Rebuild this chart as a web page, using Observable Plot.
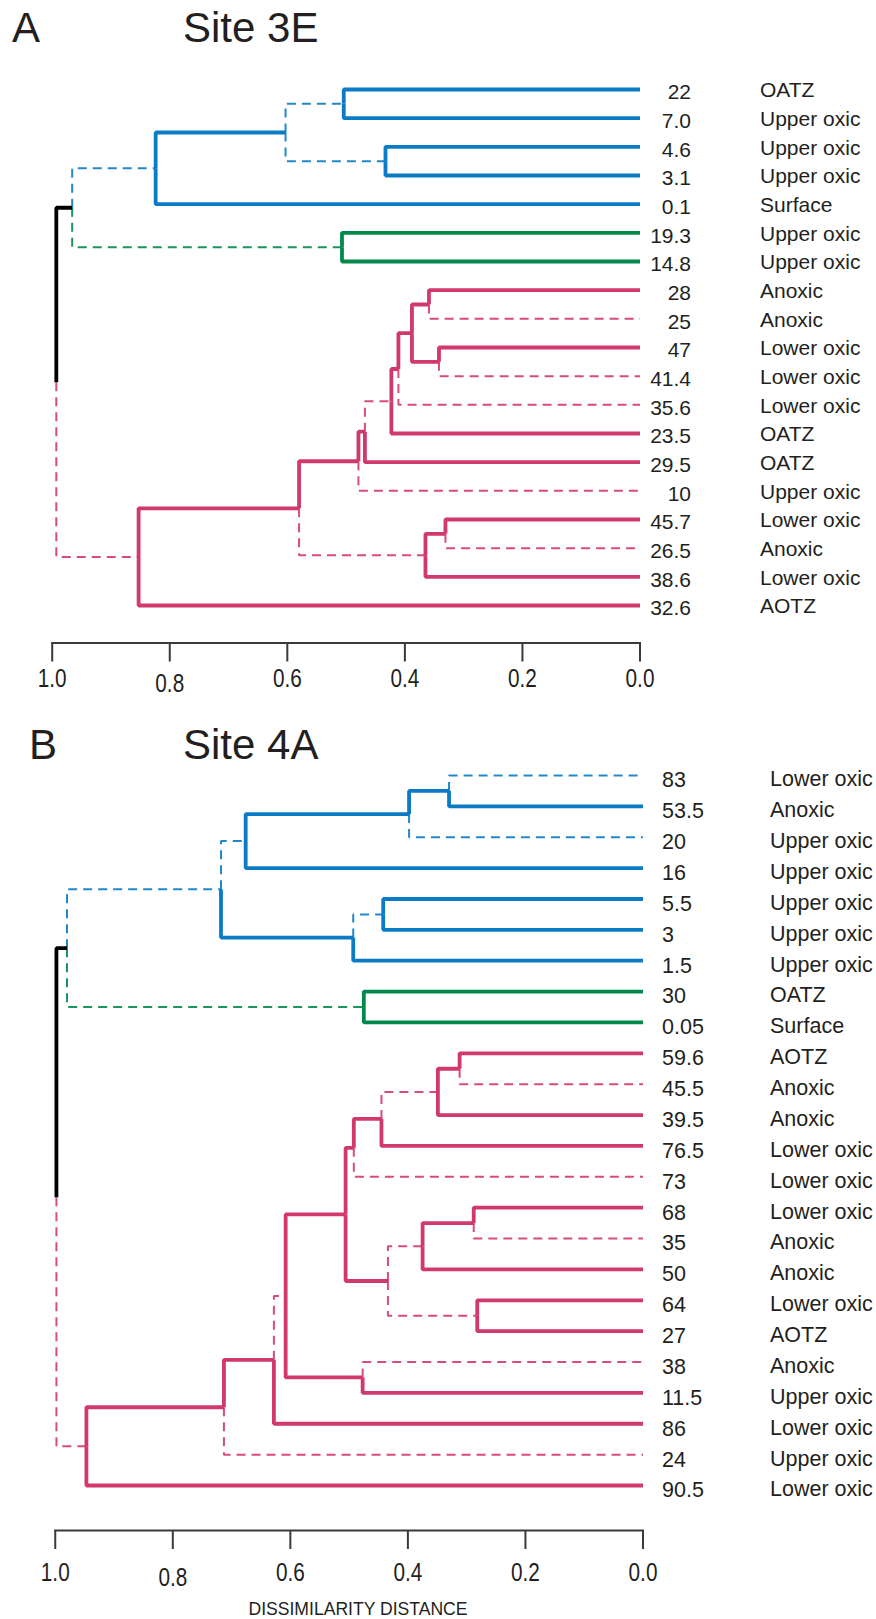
<!DOCTYPE html>
<html>
<head>
<meta charset="utf-8">
<script src="https://cdn.jsdelivr.net/npm/d3@7"></script>
<script src="https://cdn.jsdelivr.net/npm/@observablehq/plot@0.6"></script>
<style>
  html, body { margin: 0; padding: 0; background: #fff; }
  #page { position: relative; width: 876px; height: 1619px; overflow: hidden;
          font-family: "Liberation Sans", Arial, Helvetica, sans-serif; color: #231f20; }
  .panel { position: absolute; left: 0; }
  .head { position: absolute; font-size: 42px; line-height: 42px; white-space: nowrap; z-index: 2; }
  .xtitle { position: absolute; white-space: nowrap; z-index: 2;
            font-family: "Liberation Sans", Arial, sans-serif;
            font-size: 18.5px; line-height: 20px; transform: translateX(-50%) scaleX(0.95); }
</style>
</head>
<body>
<div id="page">
  <div class="head" style="left:12px;top:7px;">A</div>
  <div class="head" style="left:183px;top:7px;">Site 3E</div>
  <div class="head" style="left:29px;top:724px;">B</div>
  <div class="head" style="left:183px;top:724px;">Site 4A</div>
  <div class="xtitle" style="left:358px;top:1599px;">DISSIMILARITY DISTANCE</div>
</div>
<script>
// ---------- DATA ----------
const distanceTicks = [1.0, 0.8, 0.6, 0.4, 0.2, 0.0];

// Site 3E (panel A): leaf order top to bottom
const siteA_depth = ["22","7.0","4.6","3.1","0.1","19.3","14.8","28","25","47","41.4","35.6","23.5","29.5","10","45.7","26.5","38.6","32.6"];
const siteA_zone = ["OATZ","Upper oxic","Upper oxic","Upper oxic","Surface","Upper oxic","Upper oxic","Anoxic","Anoxic","Lower oxic","Lower oxic","Lower oxic","OATZ","OATZ","Upper oxic","Lower oxic","Anoxic","Lower oxic","AOTZ"];
const siteA_cluster = ["C1","C1","C1","C1","C1","C2","C2","C3","C3","C3","C3","C3","C3","C3","C3","C3","C3","C3","C3"];
// merges: [child1, child2, dissimilarity, child1 significant, child2 significant]; node ids continue after leaves
const siteA_merges = [
  [0, 1, 0.504, 1, 1],   // 19
  [2, 3, 0.433, 1, 1],   // 20
  [19, 20, 0.603, 0, 0], // 21
  [21, 4, 0.824, 1, 1],  // 22
  [5, 6, 0.507, 1, 1],   // 23
  [22, 23, 0.966, 0, 0], // 24
  [7, 8, 0.359, 1, 0],   // 25
  [9, 10, 0.342, 1, 0],  // 26
  [25, 26, 0.388, 1, 1], // 27
  [27, 11, 0.411, 1, 0], // 28
  [28, 12, 0.423, 1, 1], // 29
  [29, 13, 0.468, 0, 1], // 30
  [30, 14, 0.479, 1, 0], // 31
  [15, 16, 0.331, 1, 0], // 32
  [32, 17, 0.365, 1, 1], // 33
  [31, 33, 0.580, 1, 0], // 34
  [34, 18, 0.853, 1, 1], // 35
  [24, 35, 0.993, 1, 0]  // 36
];

// Site 4A (panel B)
const siteB_depth = ["83","53.5","20","16","5.5","3","1.5","30","0.05","59.6","45.5","39.5","76.5","73","68","35","50","64","27","38","11.5","86","24","90.5"];
const siteB_zone = ["Lower oxic","Anoxic","Upper oxic","Upper oxic","Upper oxic","Upper oxic","Upper oxic","OATZ","Surface","AOTZ","Anoxic","Anoxic","Lower oxic","Lower oxic","Lower oxic","Anoxic","Anoxic","Lower oxic","AOTZ","Anoxic","Upper oxic","Lower oxic","Upper oxic","Lower oxic"];
const siteB_cluster = ["C1","C1","C1","C1","C1","C1","C1","C2","C2","C3","C3","C3","C3","C3","C3","C3","C3","C3","C3","C3","C3","C3","C3","C3"];
const siteB_merges = [
  [0, 1, 0.330, 0, 1],   // 24
  [24, 2, 0.398, 1, 0],  // 25
  [25, 3, 0.676, 1, 1],  // 26
  [4, 5, 0.442, 1, 1],   // 27
  [27, 6, 0.493, 0, 1],  // 28
  [26, 28, 0.718, 0, 1], // 29
  [7, 8, 0.475, 1, 1],   // 30
  [29, 30, 0.980, 0, 0], // 31
  [9, 10, 0.312, 1, 0],  // 32
  [32, 11, 0.349, 1, 1], // 33
  [33, 12, 0.445, 0, 1], // 34
  [34, 13, 0.492, 1, 0], // 35
  [14, 15, 0.288, 1, 0], // 36
  [36, 16, 0.375, 1, 1], // 37
  [17, 18, 0.282, 1, 1], // 38
  [37, 38, 0.434, 0, 0], // 39
  [35, 39, 0.506, 1, 1], // 40
  [19, 20, 0.477, 0, 1], // 41
  [40, 41, 0.608, 1, 1], // 42
  [42, 21, 0.628, 0, 1], // 43
  [43, 22, 0.713, 1, 0], // 44
  [44, 23, 0.947, 1, 1], // 45
  [31, 45, 0.998, 1, 0]  // 46
];

// ---------- BUILD ----------
function buildTree(cluster, merges) {
  const n = cluster.length;
  const yPos = [], hgt = [], groups = [];
  for (let i = 0; i < n; i++) { yPos[i] = i; hgt[i] = 0; groups[i] = new Set([cluster[i]]); }
  const pts = [];
  merges.forEach(([a, b, d, sa, sb], k) => {
    const id = n + k;
    yPos[id] = (yPos[a] + yPos[b]) / 2;
    hgt[id] = d;
    groups[id] = new Set([...groups[a], ...groups[b]]);
    [[a, sa], [b, sb]].forEach(([c, s]) => {
      const g = groups[c].size === 1 ? [...groups[c]][0] : "mixed";
      const edge = id + "-" + c;
      pts.push({edge, group: g, sig: s, x: d, y: yPos[id]});
      pts.push({edge, group: g, sig: s, x: d, y: yPos[c]});
      pts.push({edge, group: g, sig: s, x: hgt[c], y: yPos[c]});
    });
  });
  return pts;
}

const ink = "#231f20";
const colorScale = {type: "ordinal", domain: ["C1", "C2", "C3", "mixed"], range: ["#0a7bc4", "#00894b", "#d1396b", "#000000"]};
const fmt = d3.format(".1f");

function panel(o) {
  const pts = buildTree(o.cluster, o.merges);
  const idx = d3.range(o.depth.length);
  const svg = Plot.plot({
    width: 876, height: o.height,
    marginLeft: o.left, marginRight: 876 - o.right, marginTop: 0, marginBottom: o.height - o.axisY,
    x: {domain: [1, 0]},
    y: {domain: [0, o.depth.length - 1], range: o.yRange, axis: null},
    color: colorScale,
    style: {fontFamily: "'Liberation Sans', Arial, sans-serif", color: ink, background: "transparent", overflow: "visible"},
    marks: [
      Plot.line(pts.filter(p => !p.sig), {x: "x", y: "y", z: "edge", stroke: "group", strokeWidth: 2, strokeOpacity: 0.9, strokeDasharray: "9,6", strokeLinejoin: "miter", strokeLinecap: "butt"}),
      Plot.line(pts.filter(p => p.sig), {x: "x", y: "y", z: "edge", stroke: "group", strokeWidth: 3.8, strokeLinejoin: "miter", strokeLinecap: "butt"}),
      Plot.frame({anchor: "bottom", stroke: "#3a3a3a", strokeWidth: 2}),
      Plot.axisX(distanceTicks, {tickSize: 19, tickFormat: () => "", label: null, stroke: "#3a3a3a", strokeWidth: 2}),
      Plot.text(distanceTicks.filter(t => t !== 0.8), {x: d => d, frameAnchor: "bottom", dy: o.tickDy, text: d => fmt(d), fontSize: 25, fill: ink, lineAnchor: "middle", ariaDescription: "ticklabels"}),
      Plot.text(distanceTicks.filter(t => t === 0.8), {x: d => d, frameAnchor: "bottom", dy: o.tickDy + 5, text: d => fmt(d), fontSize: 25, fill: ink, lineAnchor: "middle", ariaDescription: "ticklabels"}),
      Plot.text(idx, {x: () => 0, y: i => i, text: i => o.depth[i], dx: o.numDx, dy: o.numDy, textAnchor: o.numAnchor, fontSize: o.fs, fill: ink, lineAnchor: "middle"}),
      Plot.text(idx, {x: () => 0, y: i => i, text: i => o.zone[i], dx: o.zoneDx, dy: o.zoneDy, textAnchor: "start", fontSize: o.fs, fill: ink, lineAnchor: "middle"})
    ]
  });
  // condensed look of the axis numerals: compress each label horizontally about its own anchor
  svg.querySelectorAll('g[aria-description="ticklabels"] text').forEach(t => {
    const tr = t.getAttribute("transform");
    if (tr && tr.includes("translate")) {
      t.setAttribute("transform", tr + " scale(0.83,1)");
    } else {
      const x = +(t.getAttribute("x") || 0);
      t.setAttribute("transform", `translate(${x},0) scale(0.83,1) translate(${-x},0)`);
    }
  });
  return svg;
}

const page = document.getElementById("page");
const svgA = panel({depth: siteA_depth, zone: siteA_zone, cluster: siteA_cluster, merges: siteA_merges,
  height: 700, left: 51.7, right: 639.5, axisY: 642.5, yRange: [89, 605], tickDy: 36,
  numDx: 51, numDy: 3, numAnchor: "end", zoneDx: 120, zoneDy: 1, fs: 21});
svgA.classList.add("panel"); svgA.style.top = "0px";
page.appendChild(svgA);

const svgB = panel({depth: siteB_depth, zone: siteB_zone, cluster: siteB_cluster, merges: siteB_merges,
  height: 919, left: 54.75, right: 642.5, axisY: 830, yRange: [75, 785], tickDy: 42,
  numDx: 19, numDy: 5, numAnchor: "start", zoneDx: 127, zoneDy: 4, fs: 21.5});
svgB.classList.add("panel"); svgB.style.top = "700px";
page.appendChild(svgB);
</script>
</body>
</html>
